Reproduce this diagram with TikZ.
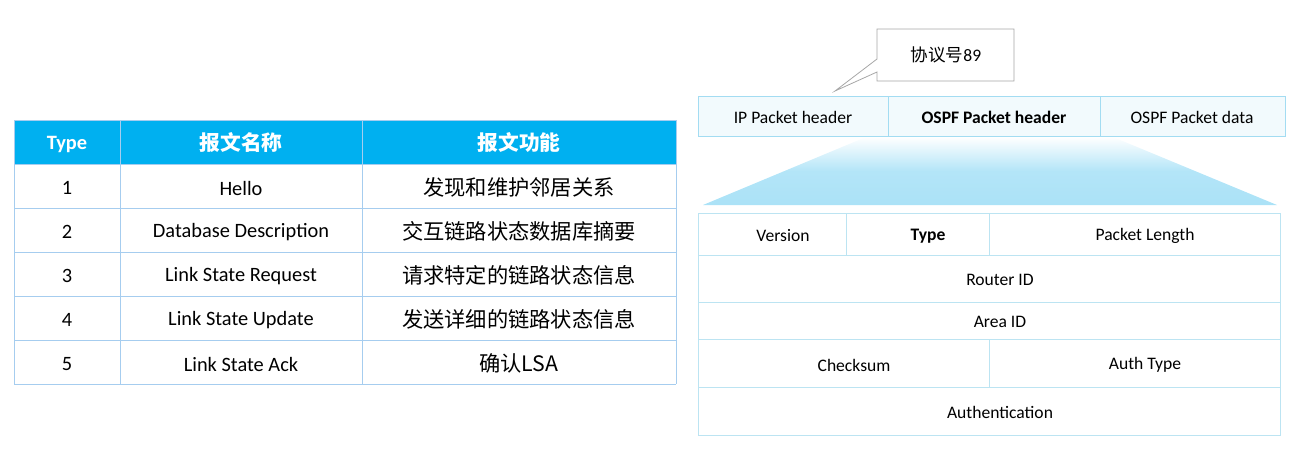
\documentclass[tikz,border=0pt]{standalone}
\usepackage{fontspec}
\setmainfont{Carlito}
\newfontfamily\cjk{Noto Sans CJK SC}
\definecolor{headblue}{HTML}{00B0F0}
\definecolor{gridblue}{HTML}{A6CDEF}
\definecolor{stripfill}{HTML}{F2FAFD}
\definecolor{stripline}{HTML}{A3DCF2}
\definecolor{fieldline}{HTML}{BCE4F2}
\definecolor{fanblue}{HTML}{ABE2F7}
\definecolor{calloutgray}{HTML}{A6A6A6}
\tikzset{
  cell/.style={inner sep=0pt, font=\fontsize{11.6}{13}\selectfont},
  cncell/.style={inner sep=0pt, font=\cjk\fontsize{12.1}{14}\selectfont},
  headcell/.style={inner sep=0pt, text=white, font=\bfseries\fontsize{11.6}{13}\selectfont},
  cnhead/.style={inner sep=0pt, text=white, font=\cjk\bfseries\fontsize{11.8}{13}\selectfont},
  field/.style={inner sep=0pt, font=\fontsize{10}{12}\selectfont},
  boldfield/.style={inner sep=0pt, font=\bfseries\fontsize{10}{12}\selectfont},
  rule/.style={line width=0.45pt},
}
\begin{document}
\begin{tikzpicture}[x=0.02cm, y=-0.02cm]
    \useasboundingbox (0,0) rectangle (1304,453);
    %% message type table
    \fill[headblue] (14,120) rectangle (676,164);
    \draw[gridblue, rule] (14,120) -- (676,120);
    \draw[gridblue, rule] (14,164) -- (676,164);
    \draw[gridblue, rule] (14,208) -- (676,208);
    \draw[gridblue, rule] (14,252) -- (676,252);
    \draw[gridblue, rule] (14,296) -- (676,296);
    \draw[gridblue, rule] (14,340) -- (676,340);
    \draw[gridblue, rule] (14,384) -- (676,384);
    \draw[gridblue, rule] (14,120) -- (14,384);
    \draw[gridblue, rule] (120,120) -- (120,384);
    \draw[gridblue, rule] (362,120) -- (362,384);
    \draw[gridblue, rule] (676,120) -- (676,384);
    %% header
    \node[headcell] (typeHd) at (67,144) {Type};
    \node[cnhead] (nameHd) at (241,143) {报文名称};
    \node[cnhead] (funcHd) at (519,143) {报文功能};
    %% rows
    \node[cell] (type1) at (67,188) {1};
    \node[cell] (name1) at (241,188) {Hello};
    \node[cncell] (func1) at (519,187) {发现和维护邻居关系};
    \node[cell] (type2) at (67,232) {2};
    \node[cell] (name2) at (241,232) {Database Description};
    \node[cncell] (func2) at (519,231) {交互链路状态数据库摘要};
    \node[cell] (type3) at (67,276) {3};
    \node[cell] (name3) at (241,276) {Link State Request};
    \node[cncell] (func3) at (519,275) {请求特定的链路状态信息};
    \node[cell] (type4) at (67,320) {4};
    \node[cell] (name4) at (241,320) {Link State Update};
    \node[cncell] (func4) at (519,319) {发送详细的链路状态信息};
    \node[cell] (type5) at (67,364) {5};
    \node[cell] (name5) at (241,364) {Link State Ack};
    \node[cncell] (func5) at (519,363) {确认LSA};
    %% fan from OSPF header to its fields
    \shade[top color=white, bottom color=fanblue, middle color=fanblue!90]
        (866,137) -- (1113,137) -- (1277,205) -- (703,205) -- cycle;
    %% packet strip
    \filldraw[fill=stripfill, draw=stripline, rule] (698,96) rectangle (1285,136);
    \draw[stripline, rule] (888,96) -- (888,136);
    \draw[stripline, rule] (1100,96) -- (1100,136);
    \node[field] (ipHdr) at (793,117) {IP Packet header};
    \node[boldfield] (ospfHdr) at (994,117) {OSPF Packet header};
    \node[field] (ospfData) at (1192,117) {OSPF Packet data};
    %% callout
    \filldraw[fill=white, draw=calloutgray, rule]
        (877,29) -- (1014,29) -- (1014,81) -- (877,81) -- (877,72) -- (835,91) -- (877,59) -- cycle;
    \node[inner sep=0pt, font=\fontsize{10}{12}\selectfont] (proto) at (946,55) {{\cjk 协议号}89};
    %% OSPF header fields
    \draw[fieldline, rule] (698,213) rectangle (1280,435);
    \draw[fieldline, rule] (698,255) -- (1280,255);
    \draw[fieldline, rule] (698,302) -- (1280,302);
    \draw[fieldline, rule] (698,339) -- (1280,339);
    \draw[fieldline, rule] (698,387) -- (1280,387);
    \draw[fieldline, rule] (846,213) -- (846,255);
    \draw[fieldline, rule] (989,213) -- (989,255);
    \draw[fieldline, rule] (989,339) -- (989,387);
    \node[field] (version) at (783,236) {Version};
    \node[boldfield] (typeFld) at (928,236) {Type};
    \node[field] (pktLen) at (1145,236) {Packet Length};
    \node[field] (routerId) at (1000,280) {Router ID};
    \node[field] (areaId) at (1000,322) {Area ID};
    \node[field] (checksum) at (854,365) {Checksum};
    \node[field] (authType) at (1145,365) {Auth Type};
    \node[field] (auth) at (1000,412) {Authentication};
\end{tikzpicture}
\end{document}
